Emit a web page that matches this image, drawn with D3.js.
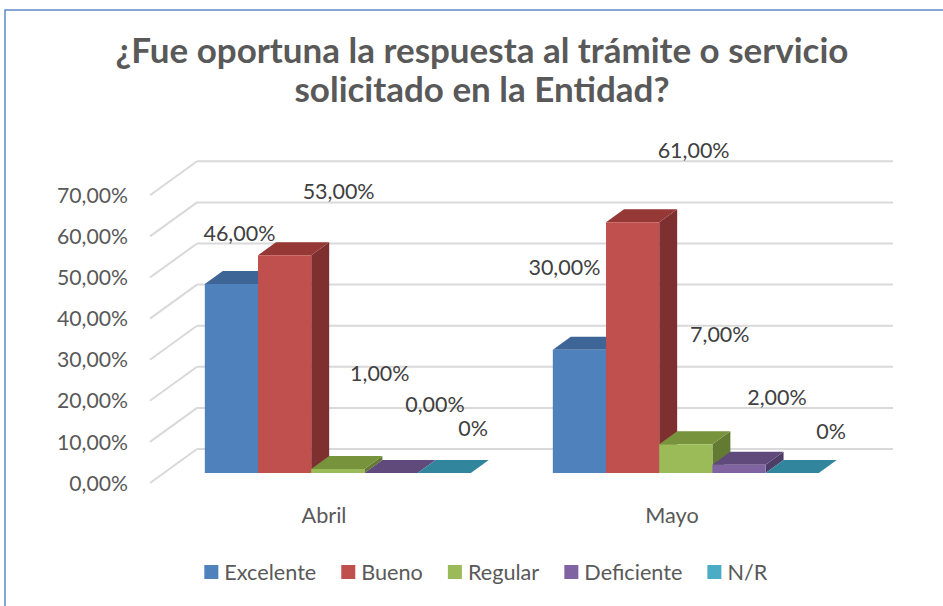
<!DOCTYPE html>
<html>
<head>
<meta charset="utf-8">
<script src="https://cdn.jsdelivr.net/npm/d3@7"></script>
<style>
  body { margin: 0; background: #fff; }
  text { font-family: Lato, "Open Sans", sans-serif; }
</style>
</head>
<body>
<div id="chart"></div>
<script>
// datos del grafico
const months = ["Abril", "Mayo"];
const series = ["Excelente", "Bueno", "Regular", "Deficiente", "N/R"];
const abril = [0.46, 0.53, 0.01, 0.00, 0.00];
const mayo = [0.30, 0.61, 0.07, 0.02, 0.00];
const yTicks = [0, 0.1, 0.2, 0.3, 0.4, 0.5, 0.6, 0.7];
const titleLines = ["¿Fue oportuna la respuesta al trámite o servicio", "solicitado en la Entidad?"];

const values = [abril, mayo];

// colores: cara frontal, superior, lateral
const frontColor = ["#4F81BD", "#C0504D", "#9BBB59", "#8064A2", "#4BACC6"];
const topColor   = ["#3D6696", "#953836", "#77933C", "#5F4A7B", "#31859C"];
const sideColor  = ["#355888", "#7D302F", "#627A31", "#4E3D66", "#2A7185"];

// desplazamiento de etiquetas respecto a la cara frontal (como lo pone Excel)
const labelShift = [
  [[8, -51], [54, -64], [42, -96], [44, -69], [29, -45]],
  [[-15, -82], [61, -72], [34, -110], [38, -68], [39, -42]]
];

const W = 943, H = 606;
const plotLeft = 150, plotRight = 846;
const depthX = 47, depthY = 34;     // profundidad de las paredes
const z0 = 0.294, z1 = 0.676;       // posicion de las barras en profundidad

const locale = d3.formatLocale({ decimal: ",", thousands: ".", grouping: [3], currency: ["", ""] });
const pct2 = locale.format(".2%");
const pct0 = locale.format(".0%");

const svg = d3.select("#chart").append("svg")
  .attr("width", W)
  .attr("height", H);

svg.append("rect").attr("width", W).attr("height", H).attr("fill", "#fff");

// medir un texto para ajustar el tamaño de letra al ancho del original
function fitSize(str, target, weight) {
  const t = svg.append("text")
    .attr("font-size", 20)
    .attr("font-weight", weight || "normal")
    .text(str);
  const w = t.node().getComputedTextLength();
  t.remove();
  return 20 * target / w;
}
const tickSize = fitSize("70,00%", 71);
const labelSize = fitSize("53,00%", 72);
const catSize = fitSize("Abril", 45);
const legendSize = fitSize("Excelente", 92);
const titleSize = fitSize(titleLines[0], 733, "bold");

// borde del area del grafico
svg.append("rect")
  .attr("x", 5).attr("y", 10)
  .attr("width", 1200).attr("height", 900)
  .attr("fill", "none")
  .attr("stroke", "#5B8AC6")
  .attr("stroke-width", 1.5);

// escalas
const y = d3.scaleLinear().domain([0, 0.7]).range([483, 483 - 0.7 * 411]);
const x0 = d3.scaleBand().domain(months).range([plotLeft, plotRight]);
const x1 = d3.scaleBand().domain(series).range([41, x0.bandwidth() - 41]);

function P(x, v, z) {
  return [x + depthX * z, y(v) - depthY * z];
}
const poly = pts => d3.line()(pts) + "Z";

// paredes y lineas de cuadricula
const grid = svg.append("g")
  .attr("stroke", "#D9D9D9")
  .attr("stroke-width", 2)
  .attr("fill", "none");

grid.selectAll("line.back")
  .data(yTicks)
  .enter()
  .append("line")
  .attr("class", "back")
  .attr("x1", d => P(plotLeft, d, 1)[0])
  .attr("y1", d => P(plotLeft, d, 1)[1])
  .attr("x2", d => P(plotRight, d, 1)[0])
  .attr("y2", d => P(plotRight, d, 1)[1]);

grid.selectAll("line.side")
  .data(yTicks)
  .enter()
  .append("line")
  .attr("class", "side")
  .attr("x1", d => P(plotLeft, d, 0)[0])
  .attr("y1", d => P(plotLeft, d, 0)[1])
  .attr("x2", d => P(plotLeft, d, 1)[0])
  .attr("y2", d => P(plotLeft, d, 1)[1]);

// etiquetas del eje Y
svg.append("g")
  .selectAll("text")
  .data(yTicks)
  .enter()
  .append("text")
  .attr("x", 128)
  .attr("y", d => y(d))
  .attr("dy", "0.36em")
  .attr("text-anchor", "end")
  .attr("font-size", tickSize)
  .attr("fill", "#595959")
  .text(d => pct2(d));

// barras 3D
const bars = [];
months.forEach((m, i) => {
  series.forEach((s, j) => {
    bars.push({ month: m, mi: i, series: s, si: j, value: values[i][j] });
  });
});

const barG = svg.append("g");
bars.forEach(d => {
  const xl = x0(d.month) + x1(d.series);
  const xr = xl + x1.bandwidth();
  const g = barG.append("g");
  g.append("path")
    .attr("d", poly([P(xr, 0, z0), P(xr, 0, z1), P(xr, d.value, z1), P(xr, d.value, z0)]))
    .attr("fill", sideColor[d.si]);
  g.append("path")
    .attr("d", poly([P(xl, d.value, z0), P(xr, d.value, z0), P(xr, d.value, z1), P(xl, d.value, z1)]))
    .attr("fill", topColor[d.si]);
  if (d.value > 0) {
    g.append("path")
      .attr("d", poly([P(xl, 0, z0), P(xr, 0, z0), P(xr, d.value, z0), P(xl, d.value, z0)]))
      .attr("fill", frontColor[d.si]);
  }
});

// etiquetas de datos
svg.append("g")
  .selectAll("text")
  .data(bars)
  .enter()
  .append("text")
  .attr("x", d => P(x0(d.month) + x1(d.series) + x1.bandwidth() / 2, d.value, z0)[0] + labelShift[d.mi][d.si][0])
  .attr("y", d => P(0, d.value, z0)[1] + labelShift[d.mi][d.si][1])
  .attr("dy", "0.36em")
  .attr("text-anchor", "middle")
  .attr("font-size", labelSize)
  .attr("fill", "#404040")
  .text(d => d.series === "N/R" ? pct0(d.value) : pct2(d.value));

// etiquetas de categorias
svg.append("g")
  .selectAll("text")
  .data(months)
  .enter()
  .append("text")
  .attr("x", d => x0(d) + x0.bandwidth() / 2)
  .attr("y", 523)
  .attr("text-anchor", "middle")
  .attr("font-size", catSize)
  .attr("fill", "#595959")
  .text(d => d);

// titulo
svg.append("g")
  .selectAll("text")
  .data(titleLines)
  .enter()
  .append("text")
  .attr("x", 482)
  .attr("y", (d, i) => 63 + i * 39)
  .attr("text-anchor", "middle")
  .attr("font-weight", "bold")
  .attr("font-size", titleSize)
  .attr("fill", "#595959")
  .text(d => d);

// leyenda
const legend = svg.append("g").attr("transform", "translate(0, 565)");
const items = legend.selectAll("g")
  .data(series)
  .enter()
  .append("g");
items.append("rect")
  .attr("width", 14).attr("height", 14)
  .attr("fill", (d, i) => frontColor[i]);
items.append("text")
  .attr("x", 20)
  .attr("y", 7)
  .attr("dy", "0.36em")
  .attr("font-size", legendSize)
  .attr("fill", "#595959")
  .text(d => d);

const widths = [];
items.each(function() { widths.push(this.getBBox().width); });
const gap = 25;
const total = d3.sum(widths) + gap * (widths.length - 1);
let cx = 486 - total / 2;
items.attr("transform", (d, i) => {
  const tx = cx;
  cx += widths[i] + gap;
  return `translate(${tx}, 0)`;
});
</script>
</body>
</html>
